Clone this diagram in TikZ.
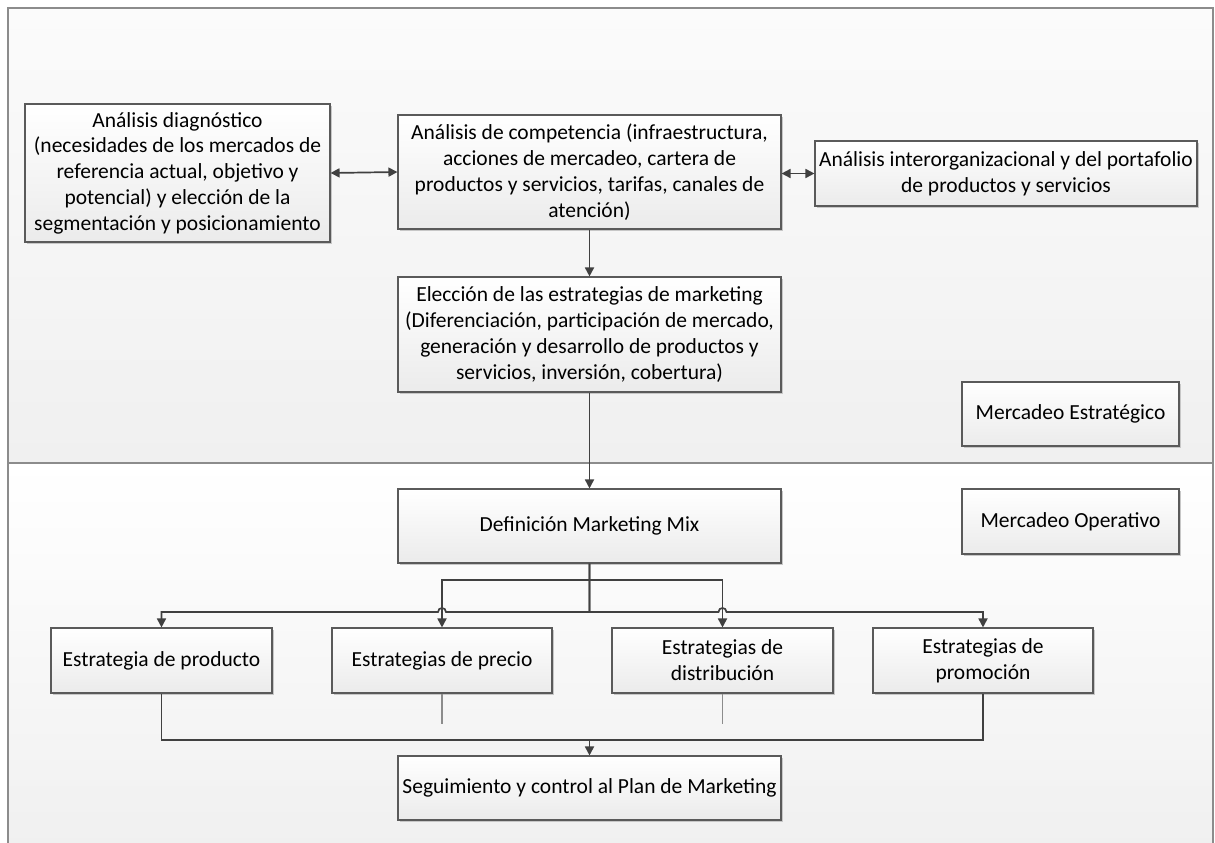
\documentclass[tikz,border=0pt]{standalone}
\usepackage{fontspec}
\setmainfont{Carlito}
\usetikzlibrary{arrows.meta,shadows}
\definecolor{boxline}{HTML}{5A5A5A}
\definecolor{connline}{HTML}{404040}
\definecolor{frameline}{HTML}{8C8C8C}
\definecolor{boxbottom}{HTML}{EBEBEB}
\definecolor{bandtop}{HTML}{FBFBFB}
\definecolor{bandbot}{HTML}{F0F0F0}
\tikzset{
  flowbox/.style={draw=boxline, line width=1.1pt, top color=white, bottom color=boxbottom,
    drop shadow={shadow xshift=2pt, shadow yshift=-2pt, fill=black!22, opacity=1},
    inner sep=0pt, align=center, font=\fontsize{21.5}{25.8}\selectfont},
  conn/.style={draw=connline, line width=1.7pt},
  tip/.style={-{Triangle[length=9pt,width=9pt]}},
  dtip/.style={{Triangle[length=9pt,width=9pt]}-{Triangle[length=9pt,width=9pt]}},
  stub/.style={draw=frameline, line width=1.3pt},
}
\begin{document}
\begin{tikzpicture}[x=1pt,y=-1pt]
\useasboundingbox (0,0) rectangle (1215,843);
% bands
\begin{scope}
\clip (0,0) rectangle (1215,843);
\path[top color=bandtop, bottom color=bandbot] (8,8) rectangle (1213,463);
\path[top color=white, bottom color=bandbot] (8,463) rectangle (1213,850);
\draw[frameline, line width=1.3pt] (8,463) -- (8,8) -- (1213,8) -- (1213,463);
\draw[frameline, line width=1.3pt] (8,463) -- (8,850);
\draw[frameline, line width=1.3pt] (1213,463) -- (1213,850);
\draw[frameline, line width=2.6pt] (7,463) -- (1214,463);
\end{scope}
% nodes
\node[flowbox, minimum width=305pt, minimum height=138pt] (diag) at (177.5,173)
 {Análisis diagnóstico\\(necesidades de los mercados de\\referencia actual, objetivo y\\potencial) y elección de la\\segmentación y posicionamiento};
\node[flowbox, minimum width=383pt, minimum height=114pt] (comp) at (589.5,172)
 {Análisis de competencia (infraestructura,\\acciones de mercadeo, cartera de\\productos y servicios, tarifas, canales de\\atención)};
\node[flowbox, minimum width=382pt, minimum height=65pt] (inter) at (1006,173.5)
 {Análisis interorganizacional y del portafolio\\de productos y servicios};
\node[flowbox, minimum width=383pt, minimum height=115pt] (elec) at (589.5,334.5)
 {Elección de las estrategias de marketing\\(Diferenciación, participación de mercado,\\generación y desarrollo de productos y\\servicios, inversión, cobertura)};
\node[flowbox, minimum width=217pt, minimum height=64pt] (estr) at (1070.5,414) {Mercadeo Estratégico};
\node[flowbox, minimum width=217pt, minimum height=65pt] (oper) at (1070.5,521.5) {Mercadeo Operativo};
\node[flowbox, minimum width=383pt, minimum height=74pt] (defi) at (589.5,526) {Definición Marketing Mix};
\node[flowbox, minimum width=221pt, minimum height=65pt] (prod) at (161.5,660.5) {Estrategia de producto};
\node[flowbox, minimum width=220pt, minimum height=65pt] (prec) at (442,660.5) {Estrategias de precio};
\node[flowbox, minimum width=221pt, minimum height=65pt] (dist) at (722.5,660.5) {Estrategias de\\distribución};
\node[flowbox, minimum width=220pt, minimum height=65pt] (prom) at (983,660.5) {Estrategias de\\promoción};
\node[flowbox, minimum width=383pt, minimum height=64pt] (segu) at (589.5,788) {Seguimiento y control al Plan de Marketing};
% connectors
\draw[conn, dtip] (diag.east) -- (comp.west);
\draw[conn, dtip] (comp.east |- inter.west) -- (inter.west);
\draw[conn, tip] (comp.south) -- (elec.north);
\draw[conn, tip] (elec.south) -- (defi.north);
\coordinate (busL) at (589.5,612);
\coordinate (busU) at (589.5,580);
\draw[conn, tip] (defi.south) -- (busL) -- (446,612) .. controls (446,606.7) and (438,606.7) .. (438,612) -- (prod.north |- busL) -- (prod.north);
\draw[conn, tip] (defi.south) -- (busL) -- (718.5,612) .. controls (718.5,606.7) and (726.5,606.7) .. (726.5,612) -- (prom.north |- busL) -- (prom.north);
\draw[conn, tip] (busU) -- (prec.north |- busU) -- (prec.north);
\draw[conn, tip] (busU) -- (dist.north |- busU) -- (dist.north);
\coordinate (busB) at (589.5,740);
\draw[conn] (prod.south) -- (prod.south |- busB) -- (prom.south |- busB) -- (prom.south);
\draw[conn, tip] (busB) -- (segu.north);
\draw[stub] (prec.south) -- ++(0,30);
\draw[stub] (dist.south) -- ++(0,30);
\end{tikzpicture}
\end{document}
